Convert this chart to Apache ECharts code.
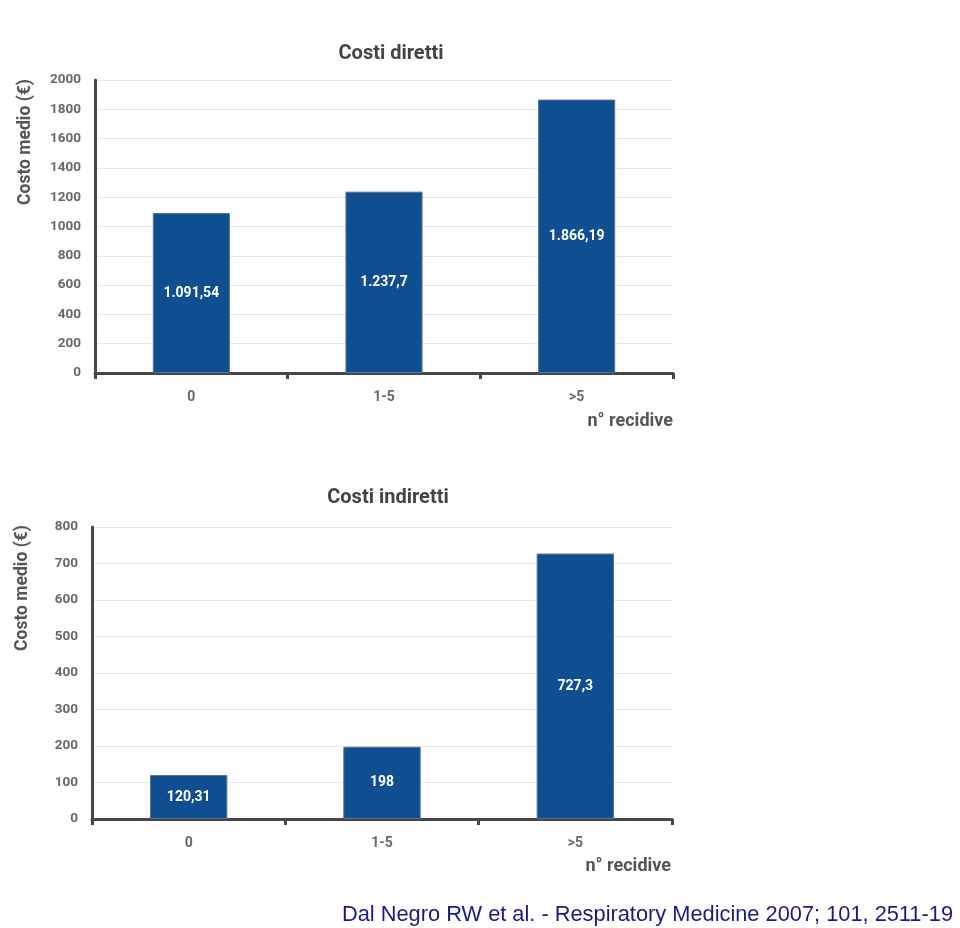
<!DOCTYPE html>
<html>
<head>
<meta charset="utf-8">
<script src="https://cdn.jsdelivr.net/npm/echarts@6/dist/echarts.min.js"></script>
<style>
html,body{margin:0;padding:0;background:#fff;}
#chart{width:960px;height:928px;}
</style>
</head>
<body>
<div id="chart"></div>
<script>
// ---- data ----
const categories = ['0', '1-5', '>5'];
const directCosts = [1091.54, 1237.7, 1866.19];
const indirectCosts = [120.31, 198, 727.3];
const directTicks = {min: 0, max: 2000, interval: 200};
const indirectTicks = {min: 0, max: 800, interval: 100};
const titleDirect = 'Costi diretti';
const titleIndirect = 'Costi indiretti';
const yName = 'Costo medio (€)';
const xName = 'n° recidive';
const citation = 'Dal Negro RW et al. - Respiratory Medicine 2007; 101, 2511-19';

function itFormat(v) {
  const parts = String(v).split('.');
  const intPart = parts[0].replace(/\B(?=(\d{3})+(?!\d))/g, '.');
  return parts.length > 1 ? intPart + ',' + parts[1] : intPart;
}

const FONT = 'Roboto, "DejaVu Sans Condensed", sans-serif';
const axisColor = '#474747';
const labelColor = '#686868';
const barColor = '#0f4e90';

function yAxisCfg(gi, t) {
  return {
    type: 'value', gridIndex: gi, min: t.min, max: t.max, interval: t.interval,
    axisLine: {show: true, lineStyle: {color: axisColor, width: 3}},
    axisTick: {show: false},
    splitLine: {show: true, lineStyle: {color: '#e9e9e9', width: 1}},
    axisLabel: {color: labelColor, fontFamily: FONT, fontWeight: 'bold', fontSize: 13.5, margin: 14,
                formatter: v => String(v)}
  };
}
function xAxisCfg(gi) {
  return {
    type: 'category', gridIndex: gi, data: categories,
    axisLine: {show: true, lineStyle: {color: axisColor, width: 3}},
    axisTick: {show: true, length: 6, lineStyle: {color: axisColor, width: 3}},
    axisLabel: {color: labelColor, fontFamily: FONT, fontWeight: 'bold', fontSize: 14, margin: 17},
    splitLine: {show: false}
  };
}
function barSeries(idx, data) {
  return {
    type: 'bar', xAxisIndex: idx, yAxisIndex: idx, data: data, barWidth: '40%',
    itemStyle: {color: barColor, borderColor: '#56708e', borderWidth: 1},
    label: {
      show: true, position: 'inside', color: '#ffffff', fontFamily: FONT,
      fontWeight: 'bold', fontSize: 14, formatter: p => itFormat(p.value)
    }
  };
}

const chart = echarts.init(document.getElementById('chart'), null, {renderer: 'canvas'});
chart.setOption({
  backgroundColor: '#ffffff',
  animation: false,
  title: [
    {text: titleDirect, left: 386, top: 39, textAlign: 'center',
     textStyle: {color: '#444', fontFamily: FONT, fontWeight: 'bold', fontSize: 20}},
    {text: titleIndirect, left: 383, top: 483, textAlign: 'center',
     textStyle: {color: '#444', fontFamily: FONT, fontWeight: 'bold', fontSize: 20}},
    {text: citation, right: 2, top: 899,
     textStyle: {color: '#1a1a84', fontFamily: '"Liberation Sans", Arial, sans-serif', fontWeight: 'normal', fontSize: 21.8}}
  ],
  grid: [
    {left: 95, top: 80, width: 578, height: 293},
    {left: 92, top: 527, width: 580, height: 292}
  ],
  xAxis: [xAxisCfg(0), xAxisCfg(1)],
  yAxis: [yAxisCfg(0, directTicks), yAxisCfg(1, indirectTicks)],
  series: [barSeries(0, directCosts), barSeries(1, indirectCosts)],
  graphic: [
    {type: 'text', x: 26, y: 142, rotation: Math.PI / 2,
     style: {text: yName, align: 'center', verticalAlign: 'middle', fill: '#555',
             font: 'bold 17.5px ' + FONT}},
    {type: 'text', x: 23, y: 588, rotation: Math.PI / 2,
     style: {text: yName, align: 'center', verticalAlign: 'middle', fill: '#555',
             font: 'bold 17.5px ' + FONT}},
    {type: 'text', x: 673, y: 421,
     style: {text: xName, align: 'right', verticalAlign: 'middle', fill: '#555',
             font: 'bold 18px ' + FONT}},
    {type: 'text', x: 671, y: 866,
     style: {text: xName, align: 'right', verticalAlign: 'middle', fill: '#555',
             font: 'bold 18px ' + FONT}}
  ]
});
</script>
</body>
</html>
